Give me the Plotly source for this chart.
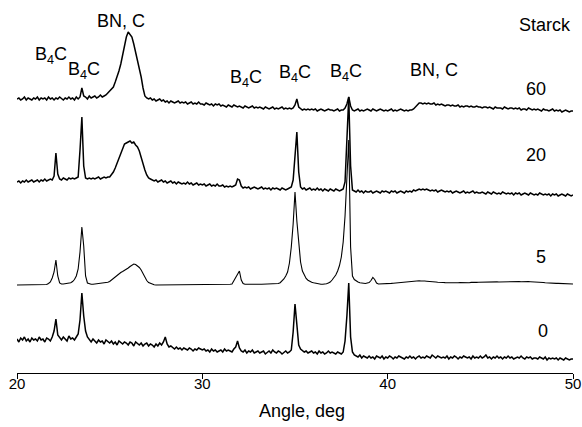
import plotly.graph_objects as go

# scan grid (2-theta, deg)
ANGLE_START = 20.0
ANGLE_STEP = 0.1
N_POINTS = 301
ANGLE = [round(ANGLE_START + ANGLE_STEP * i, 1) for i in range(N_POINTS)]

# intensities (a.u.), one row per degree (20.0 ... 49.9) + last point 50.0
I_60 = [
    13, 14, 12, 13, 15, 12, 14, 13, 12, 14,
    13, 15, 12, 14, 13, 14, 12, 15, 13, 14,
    12, 14, 13, 15, 13, 12, 14, 13, 15, 13,
    14, 12, 15, 13, 15, 24, 16, 15, 13, 16,
    14, 15, 16, 14, 15, 17, 15, 16, 17, 19,
    21, 23, 25, 30, 35, 41, 48, 57, 66, 75,
    80, 78, 75, 68, 60, 53, 44, 35, 24, 16,
    14, 13, 14, 12, 13, 11, 12, 13, 11, 12,
    10, 11, 9, 11, 10, 9, 10, 11, 9, 10,
    9, 10, 8, 9, 10, 8, 9, 8, 10, 8,
    8, 7, 9, 8, 7, 8, 6, 8, 7, 8,
    6, 7, 6, 5, 7, 6, 5, 7, 6, 5,
    6, 5, 4, 6, 5, 4, 5, 6, 4, 5,
    4, 5, 4, 3, 5, 4, 3, 4, 5, 3,
    4, 3, 4, 5, 3, 4, 3, 4, 3, 4,
    7, 13, 5, 3, 2, 3, 2, 3, 2, 3,
    2, 3, 1, 2, 3, 2, 1, 2, 3, 2,
    2, 1, 2, 3, 1, 2, 2, 4, 8, 15,
    6, 2, 1, 2, 3, 1, 2, 1, 2, 3,
    2, 1, 3, 2, 1, 2, 3, 2, 1, 2,
    1, 2, 3, 1, 2, 1, 2, 3, 2, 1,
    2, 1, 2, 2, 3, 5, 8, 9, 9, 8,
    9, 8, 9, 8, 8, 9, 7, 8, 7, 8,
    7, 6, 7, 7, 6, 7, 6, 6, 7, 5,
    6, 5, 6, 6, 5, 6, 5, 5, 6, 5,
    5, 4, 5, 5, 4, 5, 4, 3, 5, 4,
    4, 4, 3, 5, 4, 3, 4, 4, 3, 4,
    3, 4, 2, 3, 3, 2, 4, 3, 2, 3,
    2, 3, 2, 1, 3, 2, 2, 1, 2, 3,
    1, 2, 1, 2, 0, 1, 2, 1, 0, 1,
    1,
]

I_20 = [
    14, 15, 13, 15, 14, 16, 14, 15, 16, 14,
    15, 16, 14, 16, 15, 17, 15, 16, 17, 16,
    20, 43, 22, 17, 16, 18, 17, 16, 18, 17,
    18, 17, 18, 19, 46, 79, 30, 18, 17, 18,
    17, 18, 17, 18, 19, 17, 18, 19, 18, 19,
    19, 21, 24, 28, 33, 39, 44, 48, 52, 53,
    54, 55, 53, 54, 51, 49, 45, 38, 32, 26,
    21, 18, 17, 16, 15, 16, 14, 15, 16, 14,
    15, 13, 14, 15, 13, 14, 12, 14, 13, 12,
    13, 12, 14, 12, 13, 11, 12, 13, 11, 12,
    11, 12, 10, 11, 12, 10, 11, 10, 12, 10,
    10, 11, 9, 10, 9, 10, 9, 10, 11, 17,
    16, 10, 8, 9, 8, 9, 7, 8, 9, 8,
    7, 8, 9, 7, 8, 7, 8, 6, 8, 7,
    8, 7, 6, 8, 7, 6, 7, 8, 9, 16,
    44, 64, 24, 9, 7, 8, 6, 7, 8, 6,
    7, 6, 8, 6, 7, 5, 7, 6, 5, 7,
    6, 5, 7, 6, 5, 6, 7, 14, 50, 99,
    30, 6, 5, 4, 6, 4, 5, 3, 5, 4,
    4, 5, 3, 4, 5, 4, 3, 5, 4, 5,
    4, 3, 5, 4, 5, 3, 4, 5, 4, 3,
    5, 4, 5, 4, 6, 5, 6, 7, 6, 7,
    6, 7, 6, 5, 6, 5, 6, 4, 5, 6,
    5, 4, 5, 4, 5, 3, 4, 5, 4, 3,
    4, 5, 3, 4, 3, 4, 5, 3, 4, 3,
    3, 4, 3, 2, 4, 3, 2, 4, 3, 2,
    3, 2, 4, 3, 2, 3, 2, 3, 1, 3,
    2, 3, 1, 2, 3, 2, 1, 3, 2, 1,
    2, 1, 3, 2, 1, 2, 1, 2, 0, 2,
    1, 2, 0, 1, 2, 1, 0, 2, 1, 0,
    1,
]

I_5 = [
    1, 1, 1, 1, 1, 1, 1, 1, 1, 1,
    1, 1, 1, 1, 1, 1.5, 1.5, 2.5, 4, 8,
    14, 26, 10, 3, 2, 2, 2.2, 2.5, 2.8, 3.3,
    4.5, 6.5, 10, 17, 34, 59, 40, 10, 3, 2,
    1.7, 1.8, 2, 2.2, 2.4, 2.6, 2.9, 3.1, 3.4, 3.8,
    4.5, 6, 8, 9.5, 11, 12.5, 13.5, 14.5, 15.5, 17,
    18, 19.5, 21, 22, 21.5, 20, 18.5, 16, 12.5, 8,
    5.5, 3.5, 2.5, 1.8, 1.3, 1, 1, 1, 1, 1,
    1, 1, 1, 1, 1, 1, 1, 1, 1, 1,
    1, 1, 1, 1, 1, 1, 1, 1, 1, 1,
    1, 1, 1, 1, 1, 1.1, 1.1, 1.1, 1.2, 1.2,
    1.2, 1.3, 1.4, 1.5, 1.6, 1.7, 2, 5, 8, 12,
    15, 6, 2.5, 1.8, 1.7, 1.7, 1.7, 1.7, 1.7, 1.7,
    1.7, 1.7, 1.8, 1.8, 1.9, 1.9, 2, 2.1, 2.2, 2.4,
    2, 2.5, 3.3, 4.8, 7, 10, 14, 23, 39, 62,
    94, 65, 45, 24, 15, 10.5, 7.5, 5.8, 4.5, 3.7,
    3.2, 2.7, 2.3, 2, 1.8, 1.7, 1.8, 2.2, 3, 4,
    6, 8, 11, 15, 20.5, 29, 44, 70, 112, 146,
    39, 10, 6.5, 5, 4, 3.3, 2.8, 2.4, 2.5, 3,
    3.5, 5.5, 8.5, 6.5, 3, 2, 2, 2, 2.2, 2.3,
    2.4, 2.5, 2.6, 2.8, 3, 3.2, 3.5, 3.7, 4, 4.2,
    4.3, 4.5, 4.5, 4.7, 4.8, 5, 5, 5.2, 5, 5.3,
    5, 4.8, 4.5, 4.5, 4.3, 4, 4, 3.8, 3.5, 3.6,
    3.5, 3.4, 3.3, 3.5, 3.3, 3.2, 3.4, 3.3, 3.2, 3.4,
    3.3, 3.4, 3.2, 3.5, 3.3, 3.6, 3.4, 3.5, 3.6, 3.7,
    3.8, 3.7, 3.6, 3.8, 4, 3.9, 3.7, 3.9, 4, 4.1,
    4, 4.1, 4.2, 4.1, 4, 4.2, 4.3, 4.2, 4.3, 4.4,
    4.3, 4.4, 4.3, 4.5, 4.4, 4.3, 4.4, 4.3, 4.2, 4.3,
    4.2, 4.5, 4.1, 3.8, 3.5, 3.2, 3, 3, 2.8, 2.8,
    2.7, 2.6, 2.6, 2.5, 2.4, 2.4, 2.3, 2.2, 2.2, 2.1,
    2,
]

I_0 = [
    22, 19, 23, 21, 24, 20, 22, 19, 23, 21,
    22, 20, 24, 21, 22, 19, 23, 22, 20, 24,
    30, 42, 26, 23, 21, 24, 22, 20, 25, 22,
    23, 21, 24, 27, 41, 68, 45, 30, 24, 21,
    19, 22, 20, 18, 21, 19, 20, 17, 21, 19,
    18, 20, 17, 19, 16, 20, 18, 17, 19, 18,
    16, 19, 18, 15, 19, 17, 16, 18, 15, 17,
    18, 15, 17, 16, 14, 17, 15, 18, 16, 19,
    24, 17, 14, 15, 13, 12, 14, 12, 13, 11,
    13, 12, 11, 13, 12, 10, 12, 11, 13, 12,
    11, 12, 10, 11, 9, 12, 10, 11, 9, 10,
    11, 9, 12, 10, 11, 10, 9, 12, 14, 20,
    13, 10, 9, 11, 8, 10, 9, 11, 8, 9,
    10, 8, 9, 10, 7, 9, 10, 8, 11, 9,
    8, 10, 9, 7, 9, 10, 8, 9, 11, 29,
    57, 34, 16, 12, 10, 9, 10, 8, 9, 10,
    8, 9, 7, 10, 8, 9, 7, 8, 10, 8,
    9, 8, 7, 9, 8, 7, 9, 20, 45, 78,
    24, 9, 6, 5, 4, 6, 3, 5, 4, 3,
    5, 3, 4, 2, 5, 4, 3, 5, 2, 4,
    3, 5, 4, 2, 4, 3, 5, 4, 3, 2,
    4, 3, 5, 3, 4, 2, 4, 5, 3, 4,
    3, 5, 4, 3, 6, 4, 3, 5, 4, 3,
    4, 3, 5, 2, 4, 3, 5, 4, 2, 4,
    3, 5, 4, 3, 4, 2, 5, 3, 4, 3,
    5, 3, 4, 6, 3, 4, 2, 4, 3, 5,
    3, 4, 2, 4, 3, 5, 3, 4, 2, 3,
    4, 3, 5, 3, 2, 4, 3, 4, 2, 3,
    3, 2, 4, 3, 2, 4, 1, 3, 2, 3,
    2, 3, 1, 3, 2, 1, 3, 2, 1, 2,
    2,
]

SERIES = [I_60, I_20, I_5, I_0]
SERIES_NAMES = ["60", "20", "5", "0"]
STACK_OFFSETS = [265, 181, 91, 16]

TICK_VALUES = [20, 30, 40, 50]
X_TITLE = "Angle, deg"

PEAK_LABELS = ["B<sub>4</sub>C", "B<sub>4</sub>C", "BN, C", "B<sub>4</sub>C",
               "B<sub>4</sub>C", "B<sub>4</sub>C", "BN, C"]
PEAK_LABEL_X = [21.85, 23.6, 25.62, 32.38, 34.99, 37.77, 42.48]
PEAK_LABEL_Y = [322, 307, 356, 299, 304, 305, 307]
SAMPLE_LABEL_X = [48.03, 48.03, 48.25, 48.36]
SAMPLE_LABEL_Y = [288, 222, 120, 46]
HEADER_TEXT = "Starck"
HEADER_POS = (48.47, 352)

FONT = "Liberation Sans, Arial, sans-serif"

fig = go.Figure()
widths = [1.5, 1.5, 1.1, 1.5]
for vals, name, off, w in zip(SERIES, SERIES_NAMES, STACK_OFFSETS, widths):
    fig.add_trace(go.Scatter(
        x=ANGLE, y=[v + off for v in vals], mode="lines", name=name,
        line=dict(color="black", width=w), showlegend=False, hoverinfo="skip",
    ))

ann = []
for t, x, y in zip(PEAK_LABELS, PEAK_LABEL_X, PEAK_LABEL_Y):
    ann.append(dict(x=x, y=y, xref="x", yref="y", text=t, showarrow=False,
                    font=dict(family=FONT, size=18, color="black")))
for t, x, y in zip(SERIES_NAMES, SAMPLE_LABEL_X, SAMPLE_LABEL_Y):
    ann.append(dict(x=x, y=y, xref="x", yref="y", text=t, showarrow=False,
                    font=dict(family=FONT, size=18, color="black")))
ann.append(dict(x=HEADER_POS[0], y=HEADER_POS[1], xref="x", yref="y", text=HEADER_TEXT,
                showarrow=False, font=dict(family=FONT, size=18, color="black")))
ann.append(dict(x=35.4, y=-0.102, xref="x", yref="paper", text=X_TITLE, showarrow=False,
                yanchor="middle", font=dict(family=FONT, size=18, color="black")))

fig.update_layout(
    width=582, height=427,
    margin=dict(l=17, r=9, t=0, b=54),
    paper_bgcolor="white", plot_bgcolor="white",
    annotations=ann,
    hovermode=False,
    xaxis=dict(range=[20, 50], tickvals=TICK_VALUES, ticks="outside", ticklen=5,
               tickcolor="black", showline=True, linecolor="black", linewidth=1,
               showgrid=False, zeroline=False, ticklabelstandoff=-8,
               tickfont=dict(family=FONT, size=15, color="black")),
    yaxis=dict(visible=False, range=[4, 377]),
)

fig.write_html("out.html", config={"displayModeBar": False},
               post_script="document.body.style.margin='0';document.body.style.overflow='hidden';")
